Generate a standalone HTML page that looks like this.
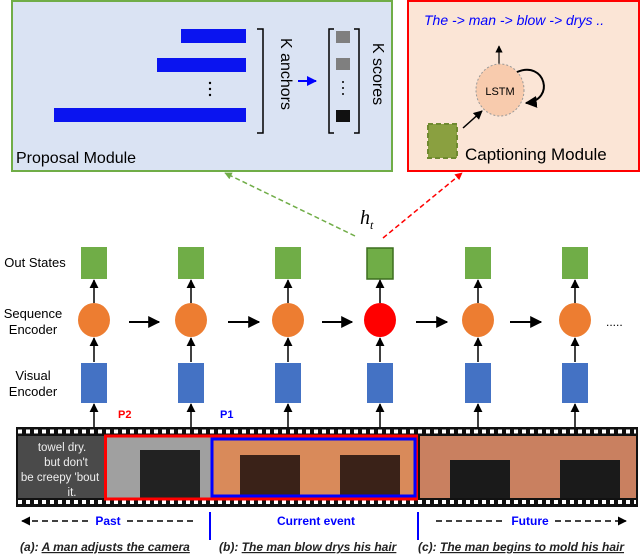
<!DOCTYPE html>
<html><head><meta charset="utf-8"><style>
body{margin:0;background:#fff;}
svg{display:block;font-family:"Liberation Sans","DejaVu Sans",sans-serif;}
</style></head><body>
<svg width="640" height="555" viewBox="0 0 640 555" xmlns="http://www.w3.org/2000/svg">
<defs>
<marker id="a" viewBox="0 0 10 10" refX="9" refY="5" markerWidth="6" markerHeight="6" orient="auto"><path d="M0,0L10,5L0,10z" fill="#000"/></marker>
<marker id="ab" viewBox="0 0 10 10" refX="9" refY="5" markerWidth="5" markerHeight="5" orient="auto"><path d="M0,0L10,5L0,10z" fill="#00f"/></marker>
<marker id="ag" viewBox="0 0 10 10" refX="9" refY="5" markerWidth="5" markerHeight="5" orient="auto"><path d="M0,0L10,5L0,10z" fill="#70ad47"/></marker>
<marker id="ar" viewBox="0 0 10 10" refX="9" refY="5" markerWidth="5" markerHeight="5" orient="auto"><path d="M0,0L10,5L0,10z" fill="#f00"/></marker>
</defs>
<rect x="12" y="1" width="380" height="170" fill="#dae3f3" stroke="#70ad47" stroke-width="2"/>
<rect x="181" y="29" width="65" height="14" fill="#0a14f0"/>
<rect x="157" y="58" width="89" height="14" fill="#0a14f0"/>
<rect x="54" y="108" width="192" height="14" fill="#0a14f0"/>
<g fill="#000"><circle cx="210" cy="83" r="1.2"/><circle cx="210" cy="89" r="1.2"/><circle cx="210" cy="95" r="1.2"/></g>
<path d="M257,29H263V133H257" fill="none" stroke="#000" stroke-width="1.5"/>
<text x="275" y="80" font-size="16" text-anchor="middle" transform="rotate(90 281 80)">K anchors</text>
<line x1="298" y1="81" x2="316" y2="81" stroke="#00f" stroke-width="2" marker-end="url(#ab)"/>
<path d="M334,29H329V133H334M354,29H359V133H354" fill="none" stroke="#000" stroke-width="1.5"/>
<rect x="336" y="31" width="14" height="12" fill="#7f7f7f"/>
<rect x="336" y="58" width="14" height="12" fill="#7f7f7f"/>
<g fill="#000"><circle cx="343" cy="82" r="1"/><circle cx="343" cy="88" r="1"/><circle cx="343" cy="94" r="1"/></g>
<rect x="336" y="110" width="14" height="12" fill="#111"/>
<text x="367" y="80" font-size="16" text-anchor="middle" transform="rotate(90 373 80)">K scores</text>
<text x="16" y="163" font-size="16">Proposal Module</text>
<rect x="408" y="1" width="231" height="170" fill="#fbe5d6" stroke="#f00" stroke-width="2"/>
<text x="424" y="25" font-size="14" font-style="italic" fill="#00f">The -&gt; man -&gt; blow -&gt; drys ..</text>
<line x1="499" y1="67" x2="499" y2="46" stroke="#000" stroke-width="1.2" marker-end="url(#a)"/>
<ellipse cx="500" cy="90" rx="24" ry="26" fill="#f8cbad" stroke="#999" stroke-dasharray="2,2"/>
<text x="500" y="95" font-size="11" text-anchor="middle">LSTM</text>
<path d="M517,72C545,60 556,100 526,103" fill="none" stroke="#000" stroke-width="2" marker-end="url(#a)"/>
<rect x="428" y="124" width="29" height="34" fill="#8aa040" stroke="#6f8a30" stroke-width="2" stroke-dasharray="5,3"/>
<line x1="463" y1="128" x2="482" y2="111" stroke="#000" stroke-width="1.5" marker-end="url(#a)"/>
<text x="465" y="160" font-size="17">Captioning Module</text>
<line x1="355" y1="236" x2="225" y2="173" stroke="#70ad47" stroke-width="1.5" stroke-dasharray="5,3" marker-end="url(#ag)"/>
<line x1="383" y1="238" x2="462" y2="173" stroke="#f00" stroke-width="1.5" stroke-dasharray="5,3" marker-end="url(#ar)"/>
<text x="360" y="224" font-size="20" font-style="italic" font-family="Liberation Serif,serif">h<tspan font-size="12" dy="5">t</tspan></text>
<g font-size="13" text-anchor="middle">
<text x="35" y="267">Out States</text>
<text x="33" y="318">Sequence</text><text x="33" y="334">Encoder</text>
<text x="33" y="380">Visual</text><text x="33" y="396">Encoder</text>
</g>
<g>
<g transform="translate(94,0)"><rect x="-13" y="247" width="26" height="32" fill="#70ad47"/><ellipse cx="0" cy="320" rx="16" ry="17" fill="#ed7d31"/><rect x="-13" y="363" width="26" height="40" fill="#4472c4"/></g>
<g transform="translate(191,0)"><rect x="-13" y="247" width="26" height="32" fill="#70ad47"/><ellipse cx="0" cy="320" rx="16" ry="17" fill="#ed7d31"/><rect x="-13" y="363" width="26" height="40" fill="#4472c4"/></g>
<g transform="translate(288,0)"><rect x="-13" y="247" width="26" height="32" fill="#70ad47"/><ellipse cx="0" cy="320" rx="16" ry="17" fill="#ed7d31"/><rect x="-13" y="363" width="26" height="40" fill="#4472c4"/></g>
<g transform="translate(380,0)"><rect x="-13" y="248" width="26" height="31" fill="#70ad47" stroke="#3c6e1e" stroke-width="1.5"/><ellipse cx="0" cy="320" rx="16" ry="17" fill="#f00"/><rect x="-13" y="363" width="26" height="40" fill="#4472c4"/></g>
<g transform="translate(478,0)"><rect x="-13" y="247" width="26" height="32" fill="#70ad47"/><ellipse cx="0" cy="320" rx="16" ry="17" fill="#ed7d31"/><rect x="-13" y="363" width="26" height="40" fill="#4472c4"/></g>
<g transform="translate(575,0)"><rect x="-13" y="247" width="26" height="32" fill="#70ad47"/><ellipse cx="0" cy="320" rx="16" ry="17" fill="#ed7d31"/><rect x="-13" y="363" width="26" height="40" fill="#4472c4"/></g>
</g>
<g stroke="#000" stroke-width="1.5" marker-end="url(#a)">
<line x1="94" y1="303" x2="94" y2="280"/><line x1="94" y1="362" x2="94" y2="338"/><line x1="94" y1="427" x2="94" y2="404"/>
<line x1="191" y1="303" x2="191" y2="280"/><line x1="191" y1="362" x2="191" y2="338"/><line x1="191" y1="427" x2="191" y2="404"/>
<line x1="288" y1="303" x2="288" y2="280"/><line x1="288" y1="362" x2="288" y2="338"/><line x1="288" y1="427" x2="288" y2="404"/>
<line x1="380" y1="303" x2="380" y2="280"/><line x1="380" y1="362" x2="380" y2="338"/><line x1="380" y1="427" x2="380" y2="404"/>
<line x1="478" y1="303" x2="478" y2="280"/><line x1="478" y1="362" x2="478" y2="338"/><line x1="478" y1="427" x2="478" y2="404"/>
<line x1="575" y1="303" x2="575" y2="280"/><line x1="575" y1="362" x2="575" y2="338"/><line x1="575" y1="427" x2="575" y2="404"/>
<line x1="129" y1="322" x2="159" y2="322" stroke-width="2"/>
<line x1="228" y1="322" x2="259" y2="322" stroke-width="2"/>
<line x1="322" y1="322" x2="352" y2="322" stroke-width="2"/>
<line x1="416" y1="322" x2="447" y2="322" stroke-width="2"/>
<line x1="510" y1="322" x2="541" y2="322" stroke-width="2"/>
</g>
<text x="606" y="326" font-size="12">.....</text>
<text x="118" y="418" font-size="11" font-weight="bold" fill="#f00">P2</text>
<text x="220" y="418" font-size="11" font-weight="bold" fill="#00f">P1</text>
<rect x="16" y="427" width="622" height="80" fill="#111"/>
<rect x="18" y="436" width="86" height="62" fill="#4a4a4a"/>
<rect x="104" y="436" width="108" height="62" fill="#a0a0a0"/>
<rect x="140" y="450" width="60" height="48" fill="#222"/>
<rect x="212" y="436" width="204" height="62" fill="#d98a5a"/>
<rect x="240" y="455" width="60" height="43" fill="#3a2218"/><rect x="340" y="455" width="60" height="43" fill="#3a2218"/>
<rect x="420" y="436" width="216" height="62" fill="#c98060"/>
<rect x="450" y="460" width="60" height="38" fill="#1a1a1a"/><rect x="560" y="460" width="60" height="38" fill="#1a1a1a"/>
<g font-size="11.5" fill="#eee" text-anchor="middle">
<text x="62" y="451">towel dry.</text>
<text x="66" y="466">but don't</text>
<text x="60" y="481">be creepy 'bout</text>
<text x="72" y="496">it.</text>
</g>
<line x1="18" y1="431.5" x2="636" y2="431.5" stroke="#fff" stroke-width="4" stroke-dasharray="4,4"/>
<line x1="18" y1="502" x2="636" y2="502" stroke="#fff" stroke-width="4" stroke-dasharray="4,4"/>
<rect x="105.5" y="436" width="311" height="63" fill="none" stroke="#f00" stroke-width="3"/>
<rect x="212" y="439" width="203" height="57" fill="none" stroke="#00f" stroke-width="3"/>
<line x1="210" y1="512" x2="210" y2="540" stroke="#00f" stroke-width="2"/>
<line x1="418" y1="512" x2="418" y2="540" stroke="#00f" stroke-width="2"/>
<g stroke="#000" stroke-width="1.5" stroke-dasharray="6,4">
<line x1="88" y1="521" x2="22" y2="521" marker-end="url(#a)"/>
<line x1="127" y1="521" x2="196" y2="521"/>
<line x1="436" y1="521" x2="505" y2="521"/>
<line x1="555" y1="521" x2="626" y2="521" marker-end="url(#a)"/>
</g>
<g font-size="12" font-weight="bold" fill="#00f" text-anchor="middle">
<text x="108" y="525">Past</text><text x="316" y="525">Current event</text><text x="530" y="525">Future</text>
</g>
<g font-size="12" font-style="italic" font-weight="bold" fill="#222">
<text x="20" y="551">(a): <tspan text-decoration="underline">A man adjusts the camera</tspan></text>
<text x="219" y="551">(b): <tspan text-decoration="underline">The man blow drys his hair</tspan></text>
<text x="418" y="551">(c): <tspan text-decoration="underline">The man begins to mold his hair</tspan></text>
</g>
</svg>
</body></html>
